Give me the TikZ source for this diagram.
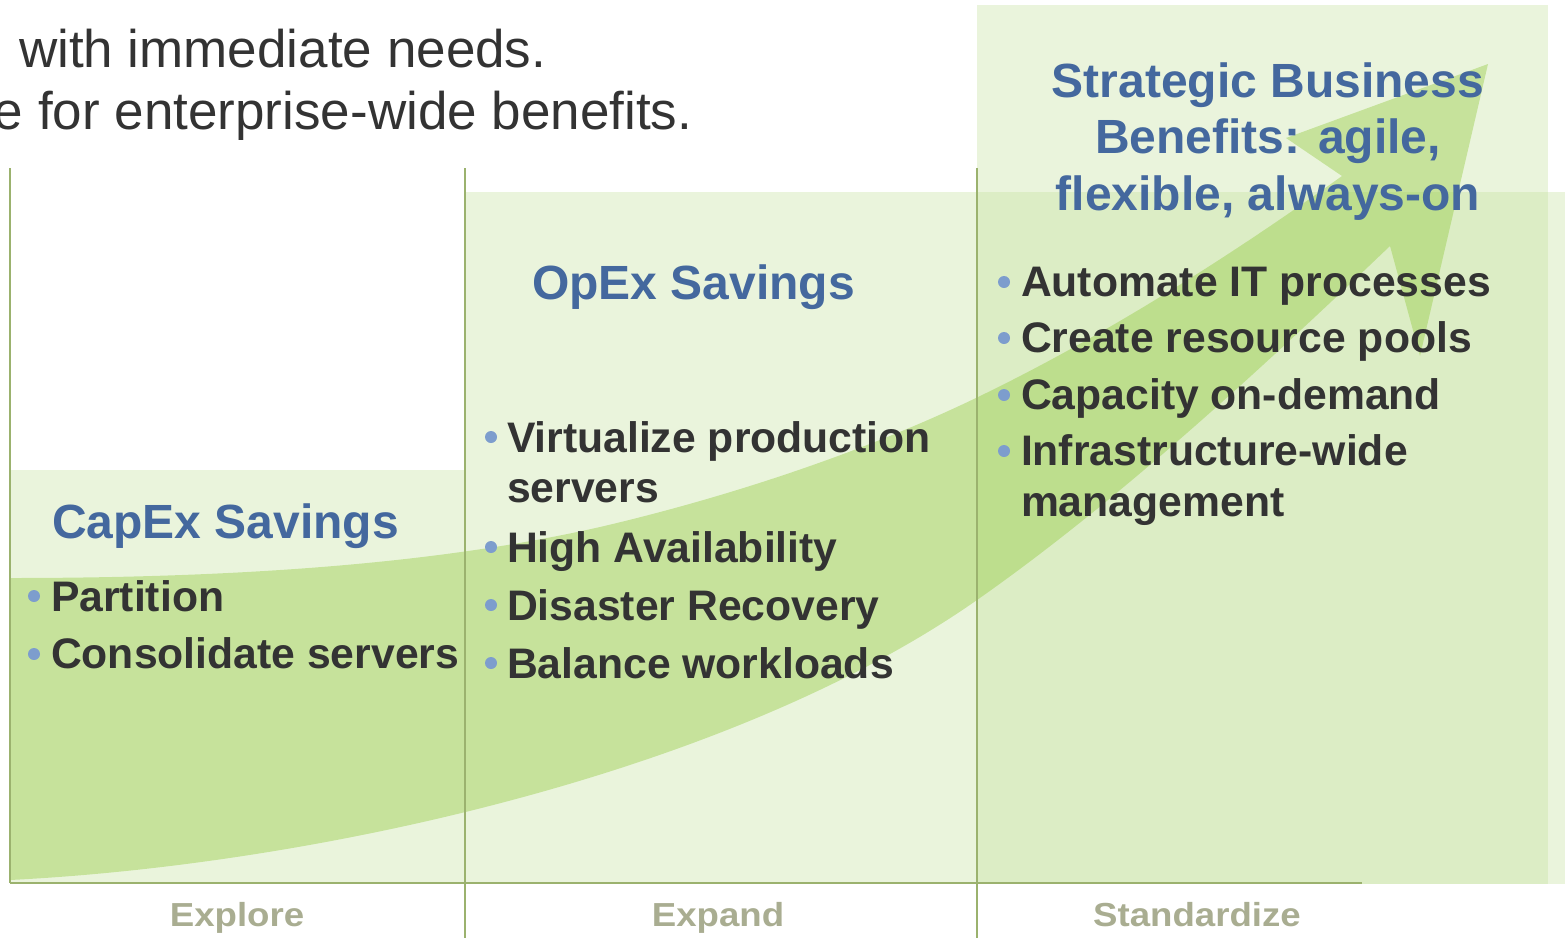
\documentclass[tikz,border=0pt]{standalone}
\usepackage{fontspec}
\setmainfont{Liberation Sans}
\newfontfamily\lblfont[FakeStretch=1.1]{Liberation Sans}
\definecolor{panelgreen}{RGB}{195,224,155}
\definecolor{arrowgreen}{RGB}{144,201,58}
\definecolor{titleblue}{RGB}{68,104,158}
\definecolor{darktext}{RGB}{51,51,51}
\definecolor{dotblue}{RGB}{125,157,205}
\definecolor{lblgray}{RGB}{169,173,145}
\definecolor{linegreen}{RGB}{155,178,110}
\begin{document}
\begin{tikzpicture}[x=1pt,y=-1pt,
  panel/.style={fill=panelgreen,fill opacity=0.35},
  arrowfill/.style={fill=arrowgreen,fill opacity=0.4},
  divider/.style={draw=linegreen,line width=1.2pt},
  baseline rule/.style={draw=linegreen,line width=2.4pt},
  item/.style={inner sep=0pt,outer sep=0pt,anchor=base west,text=darktext,font=\fontsize{42.7}{50}\selectfont\bfseries},
  ttl/.style={inner sep=0pt,outer sep=0pt,anchor=base west,text=titleblue,font=\fontsize{48}{56}\selectfont\bfseries},
  ttlc/.style={ttl,anchor=base},
  toptext/.style={inner sep=0pt,outer sep=0pt,anchor=base west,text=darktext,font=\fontsize{53}{63}\selectfont},
  lbl/.style={inner sep=0pt,outer sep=0pt,anchor=base,text=lblgray,font=\lblfont\fontsize{33.3}{40}\selectfont\bfseries},
  bulletdot/.style={fill=dotblue}]
\useasboundingbox (0,0) rectangle (1565,938);
\clip (0,0) rectangle (1565,938);

% panels
\fill[panel] (977,5) rectangle (1548,884);
\fill[panel] (465,192) rectangle (1565,884);
\fill[panel] (10,470) rectangle (465,884);

% big curved arrow
\fill[arrowfill] (10,880)
  .. controls (310,865) and (727,775) .. (977,600)
  .. controls (1117,502) and (1260,370) .. (1390,246)
  -- (1420,356) -- (1488,64) -- (1286,138) -- (1342,176)
  .. controls (1222,262) and (1098,339) .. (978,397)
  .. controls (858,455) and (720,499) .. (600,527)
  .. controls (450,561) and (260,578) .. (10,578)
  -- cycle;

% dividers
\draw[divider] (10,168) -- (10,883);
\draw[divider] (465,168) -- (465,938);
\draw[divider] (977,168) -- (977,938);
\draw[baseline rule] (10,883) -- (1362,883);

% top text
\node[toptext] (t1) at (19,67) {with immediate needs.};
\node[toptext] (t2) at (-6,129) {e for enterprise-wide benefits.};

% titles
\node[ttl] (capex) at (52,538) {CapEx Savings};
\node[ttl] (opex) at (532,299) {OpEx Savings};
\node[ttlc] (sb1) at (1268,97) {Strategic Business};
\node[ttlc] (sb2) at (1268,153) {Benefits: agile,};
\node[ttlc] (sb3) at (1268,210) {flexible, always-on};

% Explore bullets
\fill[bulletdot] (34,596) circle (6pt);
\node[item] (e1) at (51,611) {Partition};
\fill[bulletdot] (34,654) circle (6pt);
\node[item] (e2) at (51,668) {Consolidate servers};

% Expand bullets
\fill[bulletdot] (491,437) circle (6pt);
\node[item] (x1) at (507,452) {Virtualize production};
\node[item] (x1b) at (507,502) {servers};
\fill[bulletdot] (491,547) circle (6pt);
\node[item] (x2) at (507,562) {High Availability};
\fill[bulletdot] (491,605) circle (6pt);
\node[item] (x3) at (507,620) {Disaster Recovery};
\fill[bulletdot] (491,663) circle (6pt);
\node[item] (x4) at (507,678) {Balance workloads};

% Standardize bullets
\fill[bulletdot] (1004,282) circle (6pt);
\node[item] (s1) at (1021,296) {Automate IT processes};
\fill[bulletdot] (1004,338) circle (6pt);
\node[item] (s2) at (1021,352) {Create resource pools};
\fill[bulletdot] (1004,395) circle (6pt);
\node[item] (s3) at (1021,409) {Capacity on-demand};
\fill[bulletdot] (1004,451) circle (6pt);
\node[item] (s4) at (1021,465) {Infrastructure-wide};
\node[item] (s4b) at (1021,516) {management};

% phase labels
\node[lbl] (explore) at (237,926) {Explore};
\node[lbl] (expand) at (718,926) {Expand};
\node[lbl] (standardize) at (1197,926) {Standardize};
\end{tikzpicture}
\end{document}
